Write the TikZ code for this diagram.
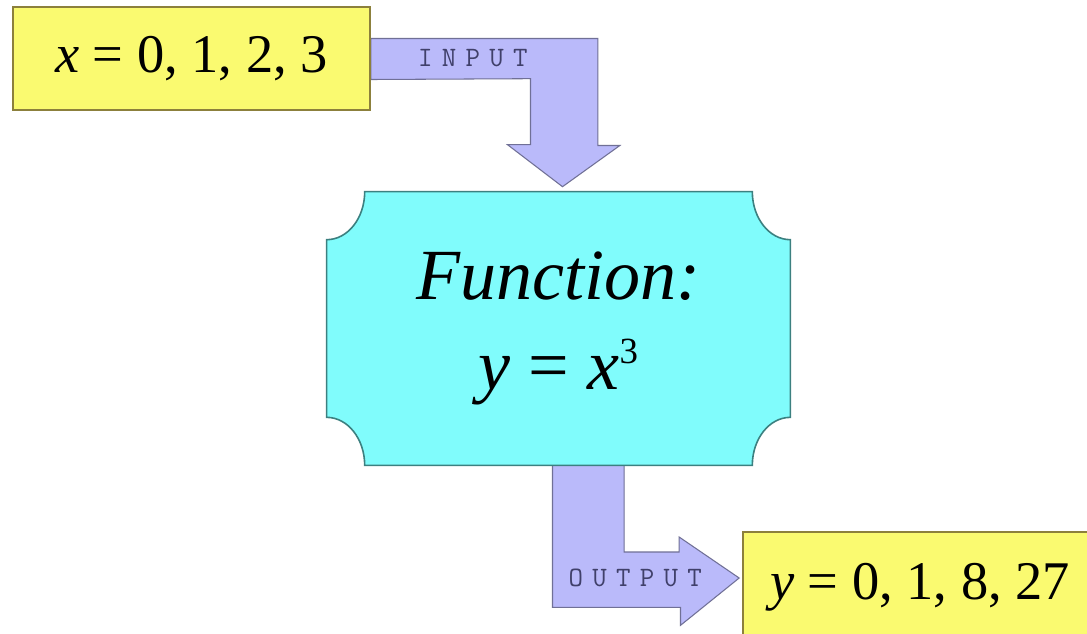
\documentclass[tikz,border=0pt]{standalone}
\usepackage{fontspec}
\setmainfont{Liberation Serif}
\newfontfamily\labelfont{Latin Modern Mono}[LetterSpace=33]
\usetikzlibrary{calc, backgrounds}

\definecolor{boxyellow}{RGB}{250,250,112}
\definecolor{yellowline}{RGB}{140,128,60}
\definecolor{funcfill}{RGB}{128,252,252}
\definecolor{funcline}{RGB}{60,128,128}
\definecolor{arrowfill}{RGB}{186,186,250}
\definecolor{arrowline}{RGB}{112,112,150}
\definecolor{labeltext}{RGB}{64,64,106}

\begin{document}
\begin{tikzpicture}[
        x=0.02cm, y=-0.02cm,
        valbox/.style={draw=yellowline, line width=1pt, fill=boxyellow, minimum width=7.14cm, minimum height=2.06cm, inner sep=0pt, font=\fontsize{31}{37}\selectfont},
        funcbox/.style={minimum width=9.26cm, minimum height=5.46cm, inner sep=0pt, align=center, font=\fontsize{41}{51}\selectfont\itshape},
        fatarrow/.style={draw=arrowline, fill=arrowfill, line width=0.6pt, line join=miter},
        funcshape/.style={draw=funcline, fill=funcfill, line width=0.9pt},
        flowlabel/.style={inner sep=0pt, text=labeltext, font=\labelfont\fontsize{16}{16}\selectfont}
    ]
    \useasboundingbox (0,0) rectangle (1087,633);
    \clip (0,0) rectangle (1087,633);

    % --- boxes ---
    \node[valbox] (inbox) at (191.5,58.5) {\textit{x} = 0, 1, 2, 3};
    \node[funcbox] (func) at (558.5,328.5) {Function:\\y {\upshape =} x\raisebox{15pt}{\fontsize{21}{21}\selectfont\upshape 3}};
    \node[valbox, minimum width=7.08cm, minimum height=2.2cm] (outbox) at (920,587) {\textit{y} = 0, 1, 8, 27};

    \coordinate (intip) at ($(func.north)+(4,-5)$);
    \coordinate (outtip) at ($(outbox.west)+(-3,-9)$);

    \begin{scope}[on background layer]
        \fill[white] (0,0) rectangle (1087,633);
        % --- input arrow ---
        \draw[fatarrow] ($(inbox.east)+(0,-20)$) -- ++(227,0) -- ++(0,107) -- ++(22,0) -- (intip)
            -- ++(-55,-42) -- ++(23,0) -- ++(0,-66) -- ($(inbox.east)+(0,21)$) -- cycle;
        % --- output arrow ---
        \draw[fatarrow] ($(func.south)+(-6,0)$) -- ++(0,142) -- ++(128,0) -- ++(0,18) -- (outtip)
            -- ++(-60,-41) -- ++(0,15) -- ++(-55,0) -- ++(0,-87) -- cycle;
        % --- function box outline ---
        \draw[funcshape] ([xshift=0.76cm]func.north west) -- ([xshift=-0.76cm]func.north east)
            arc[start angle=180, end angle=270, x radius=0.76cm, y radius=0.96cm]
            -- ([yshift=0.96cm]func.south east)
            arc[start angle=90, end angle=180, x radius=0.76cm, y radius=0.96cm]
            -- ([xshift=0.76cm]func.south west)
            arc[start angle=0, end angle=90, x radius=0.76cm, y radius=0.96cm]
            -- ([yshift=-0.96cm]func.north west)
            arc[start angle=270, end angle=360, x radius=0.76cm, y radius=0.96cm]
            -- cycle;
    \end{scope}

    \node[flowlabel] (inlabel) at ($(inbox.east)+(102,0)$) {INPUT};
    \node[flowlabel] (outlabel) at ($(outtip)+(-104,0)$) {OUTPUT};
\end{tikzpicture}
\end{document}
